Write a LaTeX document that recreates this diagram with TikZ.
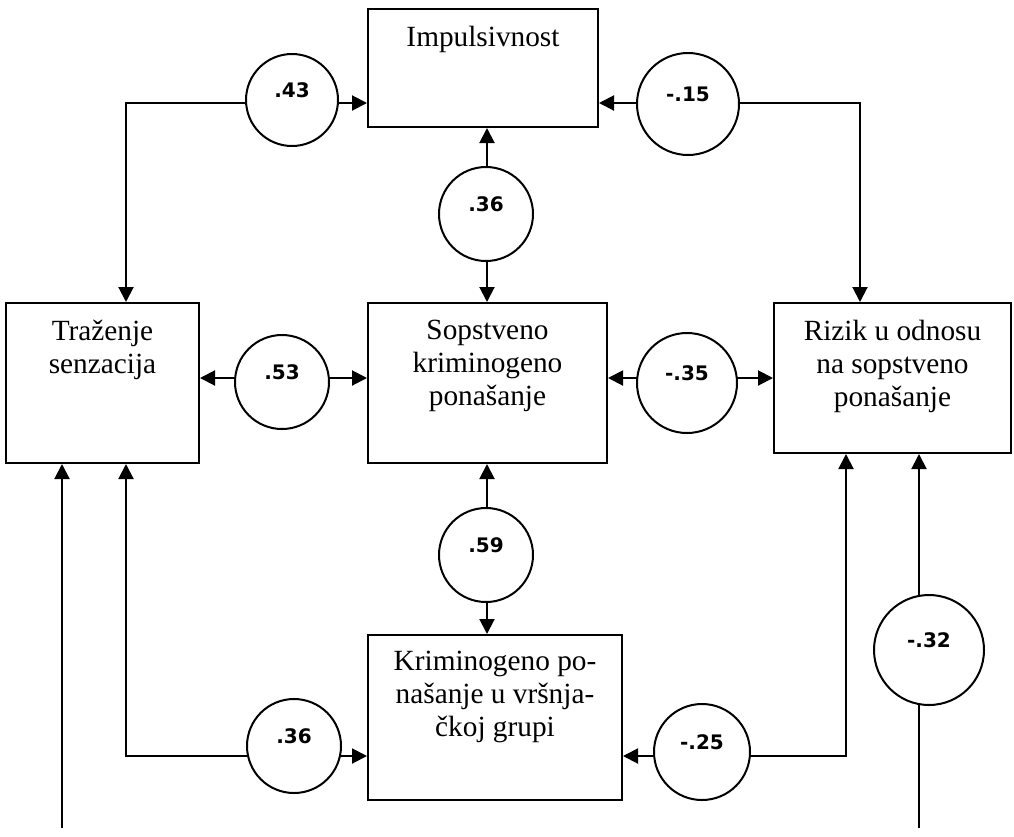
\documentclass[tikz,border=0pt]{standalone}
\usepackage{fontspec}
\setmainfont{Liberation Serif}
\newfontfamily\numfont{DejaVu Sans}
\usetikzlibrary{arrows.meta}
\begin{document}
\begin{tikzpicture}[x=1pt,y=-1pt,
  box/.style={draw, line width=2pt, rectangle, inner sep=0pt},
  lbl/.style={anchor=north, inner sep=0pt, align=center, font=\fontsize{29.3}{33}\selectfont},
  circ/.style={draw, circle, fill=white, line width=2pt, inner sep=0pt, text height=14pt, text depth=20pt, font=\numfont\bfseries\fontsize{20}{22}\selectfont},
  link/.style={line width=2pt, {Triangle[length=15pt,width=15pt]}-{Triangle[length=15pt,width=15pt]}},
  one/.style={line width=2pt, -{Triangle[length=15pt,width=15pt]}},
]
\useasboundingbox (0,0) rectangle (1014,836);

% boxes
\node[box, minimum width=230pt, minimum height=118pt] (imp) at (483,68) {};
\node[box, minimum width=193pt, minimum height=160pt] (traz) at (102.5,383) {};
\node[box, minimum width=239pt, minimum height=160pt] (sop) at (487.5,383) {};
\node[box, minimum width=237pt, minimum height=150pt] (riz) at (892.5,378) {};
\node[box, minimum width=254pt, minimum height=165pt] (krim) at (495,717.5) {};

% box texts
\node[lbl] (impt) at ([yshift=-18pt]imp.north) {Impulsivnost};
\node[lbl] (trazt) at ([yshift=-18pt]traz.north) {Traženje\\senzacija};
\node[lbl] (sopt) at ([yshift=-18pt]sop.north) {Sopstveno\\kriminogeno\\ponašanje};
\node[lbl] (rizt) at ([yshift=-18pt]riz.north) {Rizik u odnosu\\na sopstveno\\ponašanje};
\node[lbl] (krimt) at ([yshift=-17pt]krim.north) {Kriminogeno po-\\našanje u vršnja-\\čkoj grupi};

% bend / free-end coordinates
\coordinate (k1) at (126,103);
\coordinate (k2) at (860,103);
\coordinate (k3) at (487,0);
\coordinate (k4) at (0,378);
\coordinate (k7) at (126,756);
\coordinate (k8) at (846,756);
\coordinate (f1) at (62,828);
\coordinate (f2) at (919,828);

% connectors
\draw[link] (traz.north -| k1) |- (imp.west |- k1);
\draw[link] (imp.east |- k2) -| (riz.north -| k2);
\draw[link] (imp.south -| k3) -- (sop.north -| k3);
\draw[link] (traz.east |- k4) -- (sop.west |- k4);
\draw[link] (sop.east |- k4) -- (riz.west |- k4);
\draw[link] (sop.south -| k3) -- (krim.north -| k3);
\draw[link] (traz.south -| k7) |- (krim.west |- k7);
\draw[link] (krim.east |- k8) -| (riz.south -| k8);
\draw[one] (f1) -- (traz.south -| f1);
\draw[one] (f2) -- (riz.south -| f2);

% coefficient circles
\node[circ, minimum size=92pt] (c43) at (292,100) {.43};
\node[circ, minimum size=102pt] (c15) at (688,104) {-.15};
\node[circ, minimum size=94pt] (c36a) at (486,214) {.36};
\node[circ, minimum size=94pt] (c53) at (282,382) {.53};
\node[circ, minimum size=100pt] (c35) at (687,383) {-.35};
\node[circ, minimum size=94pt] (c59) at (486,555) {.59};
\node[circ, minimum size=94pt] (c36b) at (294,746) {.36};
\node[circ, minimum size=96pt] (c25) at (702,752) {-.25};
\node[circ, minimum size=110pt] (c32) at (929,650) {-.32};
\end{tikzpicture}
\end{document}
